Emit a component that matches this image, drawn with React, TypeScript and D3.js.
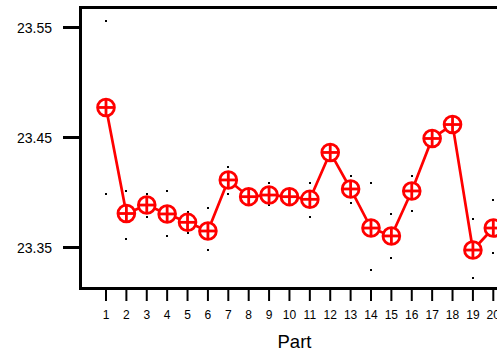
import React from "react";
import * as d3 from "d3";

const parts = [1, 2, 3, 4, 5, 6, 7, 8, 9, 10, 11, 12, 13, 14, 15, 16, 17, 18, 19, 20];
const partMeans = [23.4773, 23.3809, 23.3886, 23.3805, 23.3729, 23.365, 23.4114, 23.3962, 23.3977, 23.3962,
  23.3938, 23.4364, 23.4032, 23.3677, 23.3605, 23.4014, 23.4491, 23.4618, 23.3477, 23.3677];
const measHigh = [23.5556, 23.4014, 23.3986, 23.4014, 23.3825, 23.3856, 23.4232, 23.4005, 23.4084, 23.400,
  23.4084, 23.441, 23.4153, 23.4084, 23.3802, 23.4153, 23.454, 23.466, 23.3759, 23.3932];
const measLow = [23.3986, 23.3575, 23.3775, 23.3605, 23.3629, 23.3477, 23.3986, 23.392, 23.3886, 23.392,
  23.3775, 23.432, 23.3902, 23.3295, 23.3402, 23.3832, 23.444, 23.457, 23.3223, 23.3447];
const yTicks = [23.35, 23.45, 23.55];
const xLabel = "Part";

export default function App() {
  const W = 497, H = 353;
  const x = d3.scaleLinear().domain([1, 20]).range([106, 493.3]);
  const y = d3.scaleLinear().domain([23.35, 23.55]).range([247.5, 27.5]);
  const left = 80.5, top = 7.5, bottom = 288.5;
  const line = d3.line<number>().x((_, i) => x(parts[i])).y((d) => y(d));
  const font = "'Liberation Sans', Arial, sans-serif";
  const r = 8.4;
  const dots = parts.flatMap((p, i) => [
    { p, v: measHigh[i] },
    { p, v: measLow[i] },
  ]);
  return (
    <svg width={W} height={H} style={{ position: "absolute", left: 0, top: 0, background: "#fff" }}>
      <rect x={0} y={0} width={W} height={H} fill="#fff" />
      {dots.map((d, i) => (
        <rect key={"d" + i} x={Math.round(x(d.p)) - 1} y={Math.round(y(d.v)) - 1} width={1.5} height={1.5} fill="#000" shapeRendering="crispEdges" />
      ))}
      <path d={line(partMeans) || ""} fill="none" stroke="#ff0000" strokeWidth={2.7} />
      {partMeans.map((v, i) => {
        const cx = x(parts[i]), cy = y(v);
        return (
          <g key={"m" + i} stroke="#ff0000" strokeWidth={2.8} fill="#fff">
            <circle cx={cx} cy={cy} r={r} />
            <line x1={cx - r} x2={cx + r} y1={cy} y2={cy} />
            <line x1={cx} x2={cx} y1={cy - r} y2={cy + r} />
          </g>
        );
      })}
      <path d={`M${W + 5},${top} H${left} V${bottom} H${W + 5}`} fill="none" stroke="#000" strokeWidth={3} />
      {yTicks.map((t) => (
        <g key={"y" + t}>
          <line x1={63} x2={left} y1={y(t)} y2={y(t)} stroke="#000" strokeWidth={3} />
          <text x={52} y={y(t) + 5} textAnchor="end" fontFamily={font} fontSize={14} fill="#000">
            {t.toFixed(2)}
          </text>
        </g>
      ))}
      {parts.map((p) => (
        <g key={"x" + p}>
          <line x1={x(p)} x2={x(p)} y1={bottom} y2={301} stroke="#000" strokeWidth={2} />
          <text x={x(p)} y={319} textAnchor="middle" fontFamily={font} fontSize={12} fill="#000">
            {p}
          </text>
        </g>
      ))}
      <text x={294.5} y={348} textAnchor="middle" fontFamily={font} fontSize={18.5} fill="#000">
        {xLabel}
      </text>
    </svg>
  );
}
